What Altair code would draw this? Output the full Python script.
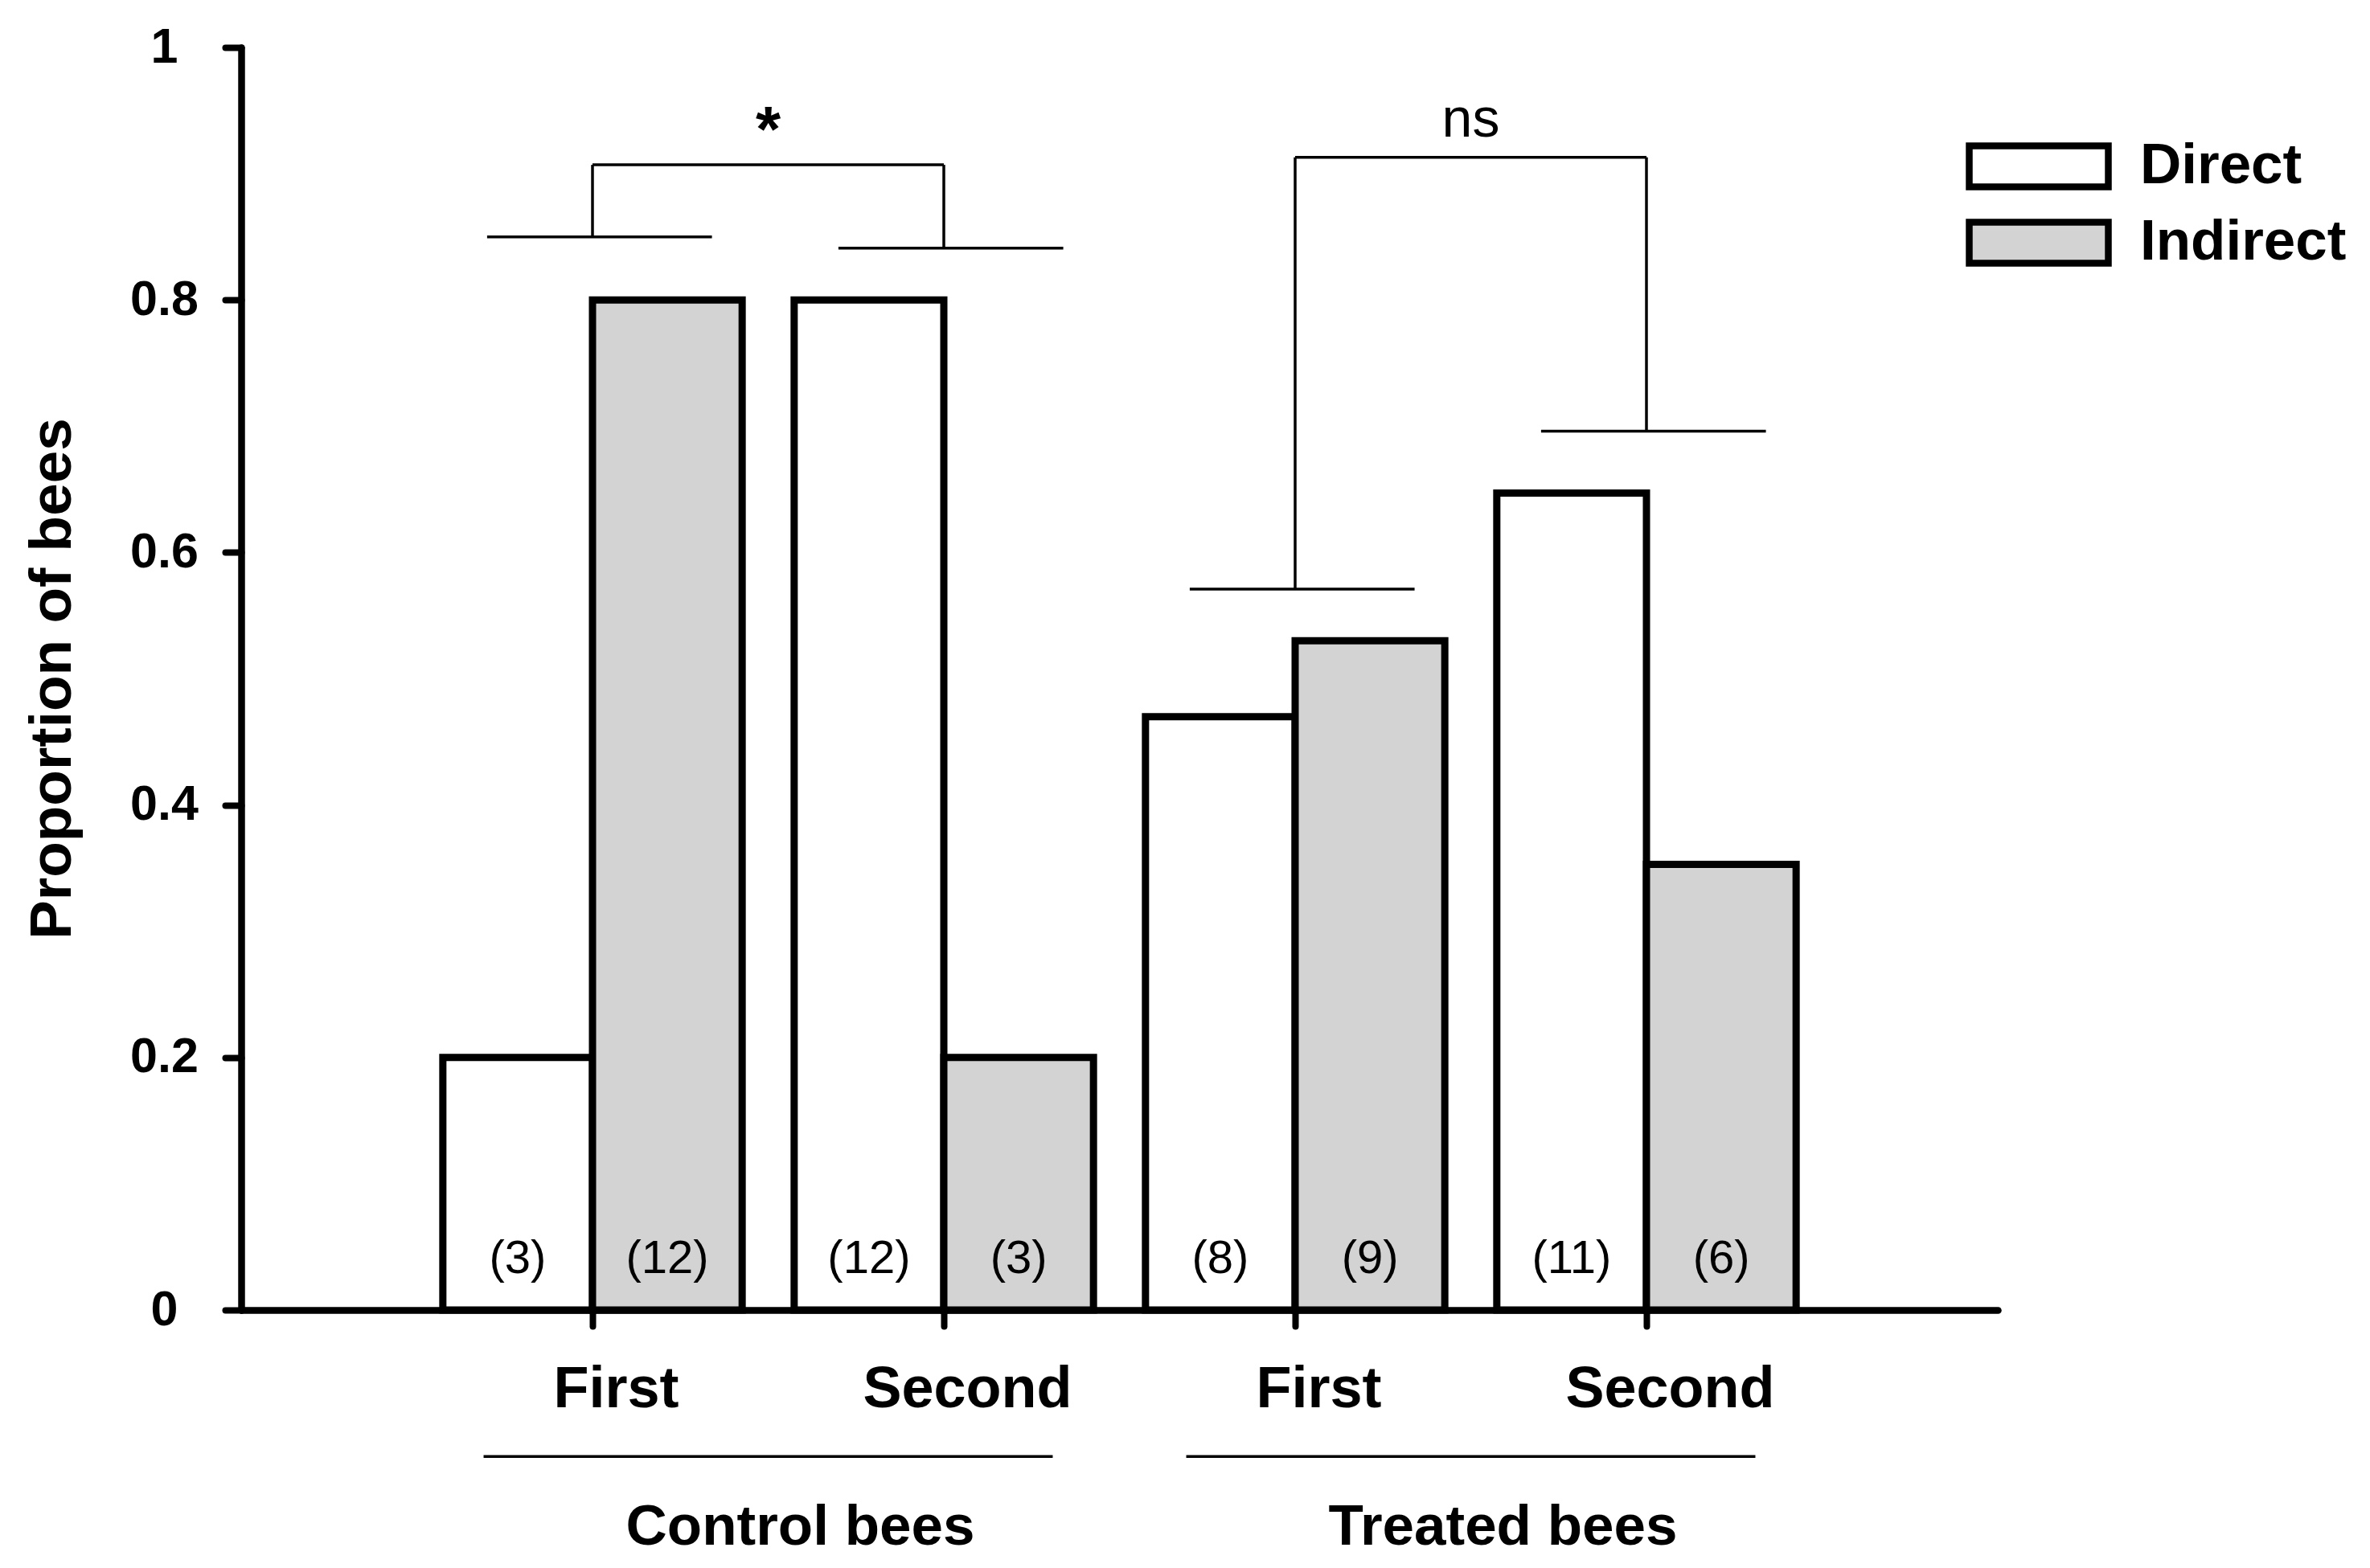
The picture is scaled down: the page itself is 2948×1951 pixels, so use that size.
import altair as alt
import pandas as pd

# ---------------- data ----------------
groups = ["Control bees", "Control bees", "Treated bees", "Treated bees"]
trials = ["First", "Second", "First", "Second"]
types = ["Direct", "Indirect"]
direct = [0.20, 0.80, 0.47, 0.647]
indirect = [0.80, 0.20, 0.53, 0.353]
n_direct = [3, 12, 8, 11]
n_indirect = [12, 3, 9, 6]

# significance comparisons (1-based pair indices)
cmp_left = [1, 3]
cmp_right = [2, 4]
cmp_base_left = [0.85, 0.571]
cmp_base_right = [0.841, 0.696]
cmp_top = [0.907, 0.913]
cmp_label = ["*", "ns"]

FONT = "Liberation Sans, Arial, Helvetica, sans-serif"
BW = 0.426          # bar width in pair units
BL, BR = 0.30, 0.34  # bracket foot extents
GH = 0.81           # half width of group underline

# ---------------- tables ----------------
bar_rows = []
for i in range(len(trials)):
    p = i + 1
    bar_rows.append(dict(type="Direct", x=p - BW, x2=p, xc=p - BW / 2,
                         value=direct[i], n=f"({n_direct[i]})"))
    bar_rows.append(dict(type="Indirect", x=p, x2=p + BW, xc=p + BW / 2,
                         value=indirect[i], n=f"({n_indirect[i]})"))
bars_df = pd.DataFrame(bar_rows)

seg_rows = []
lab_rows = []
for a, b, ba, bb, t, lab in zip(cmp_left, cmp_right, cmp_base_left,
                                cmp_base_right, cmp_top, cmp_label):
    seg_rows += [
        dict(x=a - BL, x2=a + BR, y=ba, y2=ba),
        dict(x=a, x2=a, y=ba, y2=t),
        dict(x=a, x2=b, y=t, y2=t),
        dict(x=b, x2=b, y=t, y2=bb),
        dict(x=b - BL, x2=b + BR, y=bb, y2=bb),
    ]
    lab_rows.append(dict(x=(a + b) / 2, y=t, label=lab))
seg_df = pd.DataFrame(seg_rows)
lab_df = pd.DataFrame(lab_rows)

grp_rows = []
for g in dict.fromkeys(groups):
    idx = [i + 1 for i, gg in enumerate(groups) if gg == g]
    c = sum(idx) / len(idx)
    grp_rows.append(dict(group=g, xc=c, x=c - GH, x2=c + GH,
                         yl=-0.116, yt=-0.186))
grp_df = pd.DataFrame(grp_rows)

# ---------------- scales / axes ----------------
xscale = alt.Scale(domain=[0, 5], nice=False, zero=False)
yscale = alt.Scale(domain=[0, 1], nice=False)

label_expr = "[" + ",".join(f"'{t}'" for t in trials) + "][datum.value - 1]"

x_axis = alt.Axis(values=[1, 2, 3, 4], labelExpr=label_expr, title="",
                  grid=False, domainColor="black", domainWidth=8.5,
                  domainCap="round", tickColor="black", tickWidth=8,
                  tickSize=20, tickCap="round", labelFont=FONT,
                  labelFontSize=72, labelFontWeight="bold",
                  labelColor="black", labelBaseline="alphabetic",
                  labelPadding=100, labelOffset=29, labelFlush=False,
                  labelOverlap=False, labelLimit=0)
y_axis = alt.Axis(values=[0, 0.2, 0.4, 0.6, 0.8, 1], format="~g",
                  title="Proportion of bees", grid=False,
                  domainColor="black", domainWidth=8.5, domainCap="round",
                  tickColor="black", tickWidth=8, tickSize=20,
                  tickCap="round", labelFont=FONT, labelFontSize=61,
                  labelFontWeight="bold", labelColor="black",
                  labelAlign="center", labelBaseline="middle",
                  labelPadding=76, labelFlush=False, labelLimit=0,
                  titleFont=FONT, titleFontSize=73, titleFontWeight="bold",
                  titleColor="black", titleAngle=270, titleX=-213,
                  titleY=785, titleAlign="center",
                  titleBaseline="alphabetic", titleLimit=0)

legend = alt.Legend(title=None, orient="none", legendX=2145, legendY=108,
                    symbolType="M-1,-0.295H1V0.295H-1Z",
                    symbolSize=173 * 173, symbolStrokeColor="black",
                    symbolStrokeWidth=8.5, clipHeight=80, rowPadding=15,
                    labelOffset=35, labelFont=FONT, labelFontSize=71,
                    labelFontWeight="bold", labelColor="black",
                    labelLimit=0, padding=0)


def X(f):
    return alt.X(f, scale=xscale, axis=x_axis)


def Y(f):
    return alt.Y(f, scale=yscale, axis=y_axis)


# ---------------- layers ----------------
bars = alt.Chart(bars_df).mark_bar(stroke="black", strokeWidth=9).encode(
    x=X("x:Q"),
    x2="x2:Q",
    y=Y("value:Q"),
    y2=alt.datum(0),
    fill=alt.Fill("type:N", scale=alt.Scale(domain=types,
                  range=["#ffffff", "#d3d3d3"]), legend=legend),
)

counts = alt.Chart(bars_df).mark_text(
    font=FONT, fontSize=58, color="black", baseline="alphabetic",
    align="center"
).encode(
    x=X("xc:Q"),
    y=Y("cy:Q"),
    text="n:N",
).transform_calculate(cy="0.029")

brackets = alt.Chart(seg_df).mark_rule(color="black", strokeWidth=3.5).encode(
    x=X("x:Q"),
    x2="x2:Q",
    y=Y("y:Q"),
    y2="y2:Q",
)

star = alt.Chart(lab_df).transform_filter("datum.label == '*'").mark_text(
    font=FONT, fontSize=80, fontWeight="bold", color="black",
    baseline="alphabetic", align="center", dy=-17
).encode(
    x=X("x:Q"),
    y=Y("y:Q"),
    text="label:N",
)

ns = alt.Chart(lab_df).transform_filter("datum.label != '*'").mark_text(
    font=FONT, fontSize=68, color="black", baseline="alphabetic",
    align="center", dy=-26
).encode(
    x=X("x:Q"),
    y=Y("y:Q"),
    text="label:N",
)

grp_lines = alt.Chart(grp_df).mark_rule(color="black", strokeWidth=3.5).encode(
    x=X("x:Q"),
    x2="x2:Q",
    y=Y("yl:Q"),
)

grp_text = alt.Chart(grp_df).mark_text(
    font=FONT, fontSize=71, fontWeight="bold", color="black",
    baseline="alphabetic", align="center", dx=40
).encode(
    x=X("xc:Q"),
    y=Y("yt:Q"),
    text="group:N",
)

chart = alt.layer(bars, counts, brackets, star, ns, grp_lines, grp_text).properties(
    width=2185, height=1571,
    autosize=alt.AutoSizeParams(type="none"),
    padding={"left": 292, "top": 51, "right": 455, "bottom": 313},
    background="white",
).configure_view(stroke=None)

chart.save("out.html", embed_options={"renderer": "svg", "actions": False})
